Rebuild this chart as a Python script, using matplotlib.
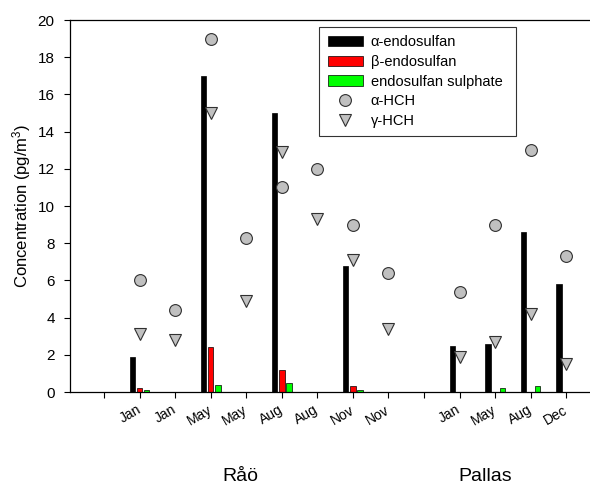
import numpy as np
import matplotlib
matplotlib.use('Agg')
import matplotlib.pyplot as plt

plt.rcParams['font.family'] = ['Liberation Sans', 'DejaVu Sans']
plt.rcParams['mathtext.default'] = 'regular'

# sampling slots along the x axis (0 and 9 are empty spacers)
months = ['', 'Jan', 'Jan', 'May', 'May', 'Aug', 'Aug', 'Nov', 'Nov',
          '', 'Jan', 'May', 'Aug', 'Dec']

# endosulfans (pg/m3), bars; NaN where not measured / not detected
a_endo = [np.nan, 1.9, np.nan, 17.0, np.nan, 15.0, np.nan, 6.8, np.nan,
          np.nan, 2.5, 2.6, 8.6, 5.8]
b_endo = [np.nan, 0.2, np.nan, 2.4, np.nan, 1.2, np.nan, 0.3, np.nan,
          np.nan, np.nan, np.nan, np.nan, np.nan]
endo_sulph = [np.nan, 0.1, np.nan, 0.4, np.nan, 0.5, np.nan, 0.1, np.nan,
              np.nan, np.nan, 0.2, 0.3, np.nan]

# HCHs (pg/m3), symbols
a_hch = [np.nan, 6.0, 4.4, 19.0, 8.3, 11.0, 12.0, 9.0, 6.4,
         np.nan, 5.4, 9.0, 13.0, 7.3]
g_hch = [np.nan, 3.1, 2.8, 15.0, 4.9, 12.9, 9.3, 7.1, 3.4,
         np.nan, 1.9, 2.7, 4.2, 1.5]

sites = ['Råö', 'Pallas']
site_pos = [3.83, 10.72]

x = np.arange(len(months))
w = 0.15

fig = plt.figure(figsize=(5.9, 4.84), dpi=100)
ax = fig.add_axes([70 / 590, 1 - 392 / 484, 520 / 590, 372 / 484])

b1 = ax.bar(x - 0.2, a_endo, w, color='black', edgecolor='black', lw=0.5,
            label='α-endosulfan', zorder=2)
b2 = ax.bar(x, b_endo, w, color='#ff0000', edgecolor='black', lw=0.5,
            label='β-endosulfan', zorder=2)
b3 = ax.bar(x + 0.2, endo_sulph, w, color='#00ff00', edgecolor='black',
            lw=0.5, label='endosulfan sulphate', zorder=2)
l1, = ax.plot(x, a_hch, 'o', ms=8.5, mfc='#c0c0c0', mec='#303030', mew=0.8,
              label='α-HCH', zorder=3)
l2, = ax.plot(x, g_hch, 'v', ms=9, mfc='#c0c0c0', mec='#303030', mew=0.8,
              label='γ-HCH', zorder=3)

ax.set_xlim(-0.96, 13.67)
ax.set_ylim(0, 20)
ax.set_yticks(range(0, 21, 2))
ax.set_xticks(x)
ax.set_xticklabels(months, rotation=30, ha='right', va='center',
                   rotation_mode='anchor')
ax.tick_params(axis='both', direction='out', length=4, width=0.8)
ax.tick_params(axis='y', labelsize=11, pad=7)
ax.tick_params(axis='x', labelsize=10, pad=8)
ax.spines['right'].set_visible(False)
for s in ['left', 'bottom', 'top']:
    ax.spines[s].set_linewidth(0.9)

ax.set_ylabel('Concentration (pg/m$^3$)', fontsize=12)
ax.yaxis.set_label_coords(-0.071, 0.5)

trans = ax.get_xaxis_transform()
for name, pos in zip(sites, site_pos):
    ax.text(pos, -0.226, name, transform=trans, ha='center', va='center',
            fontsize=14)

# legend box spans a fixed width, entries left aligned inside it
handles = [b1, b2, b3, l1, l2]
leg = ax.legend(handles, [h.get_label() for h in handles],
                loc='upper left', bbox_to_anchor=(0.479, 0.5, 0.379, 0.482),
                mode='expand', fontsize=10.5, frameon=True, fancybox=False,
                handlelength=2.4, handleheight=0.7, handletextpad=0.55,
                labelspacing=0.38, borderpad=0.6, borderaxespad=0)
leg.get_frame().set_edgecolor('black')
leg.get_frame().set_linewidth(0.8)

fig.savefig('out.png', dpi=100)
